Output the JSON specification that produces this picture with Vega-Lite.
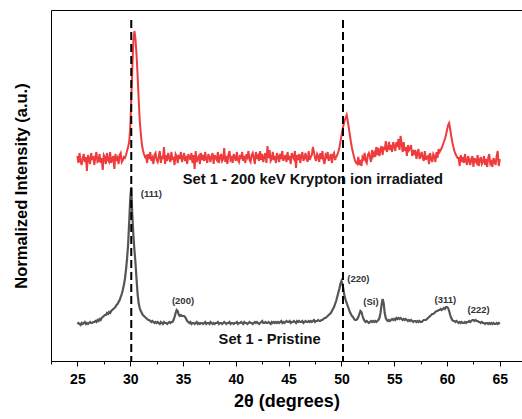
{
  "$schema": "https://vega.github.io/schema/vega-lite/v6.json",
  "width": 471,
  "height": 351,
  "autosize": {"type": "none"},
  "padding": {"left": 51, "top": 10, "right": 0, "bottom": 58},
  "background": "white",
  "config": {"view": {"stroke": null}, "font": "Liberation Sans"},
  "resolve": {"axis": {"x": "independent", "y": "independent"}},
  "datasets": {
    "irradiated": [
      {"theta":25.0,"intensity":205},{"theta":25.1,"intensity":198},{"theta":25.2,"intensity":208},{"theta":25.3,"intensity":200},{"theta":25.4,"intensity":196},{"theta":25.5,"intensity":203},{"theta":25.6,"intensity":207},{"theta":25.7,"intensity":199},{"theta":25.8,"intensity":204},{"theta":25.9,"intensity":190},
      {"theta":26.0,"intensity":206},{"theta":26.1,"intensity":202},{"theta":26.2,"intensity":197},{"theta":26.3,"intensity":208},{"theta":26.4,"intensity":201},{"theta":26.5,"intensity":205},{"theta":26.6,"intensity":196},{"theta":26.7,"intensity":204},{"theta":26.8,"intensity":209},{"theta":26.9,"intensity":199},
      {"theta":27.0,"intensity":200},{"theta":27.1,"intensity":207},{"theta":27.2,"intensity":198},{"theta":27.3,"intensity":203},{"theta":27.4,"intensity":191},{"theta":27.5,"intensity":206},{"theta":27.6,"intensity":204},{"theta":27.7,"intensity":197},{"theta":27.8,"intensity":208},{"theta":27.9,"intensity":201},
      {"theta":28.0,"intensity":199},{"theta":28.1,"intensity":209},{"theta":28.2,"intensity":198},{"theta":28.3,"intensity":202},{"theta":28.4,"intensity":205},{"theta":28.5,"intensity":192},{"theta":28.6,"intensity":207},{"theta":28.7,"intensity":200},{"theta":28.8,"intensity":203},{"theta":28.9,"intensity":197},
      {"theta":29.0,"intensity":206},{"theta":29.1,"intensity":208},{"theta":29.2,"intensity":199},{"theta":29.3,"intensity":201},{"theta":29.4,"intensity":204},{"theta":29.5,"intensity":203},{"theta":29.6,"intensity":206},{"theta":29.7,"intensity":210},{"theta":29.8,"intensity":214},{"theta":29.9,"intensity":219},
      {"theta":30.0,"intensity":232},{"theta":30.1,"intensity":262},{"theta":30.2,"intensity":292},{"theta":30.3,"intensity":320},{"theta":30.4,"intensity":330},{"theta":30.5,"intensity":322},{"theta":30.6,"intensity":306},{"theta":30.7,"intensity":286},{"theta":30.8,"intensity":262},{"theta":30.9,"intensity":241},
      {"theta":31.0,"intensity":228},{"theta":31.1,"intensity":217},{"theta":31.2,"intensity":211},{"theta":31.3,"intensity":207},{"theta":31.4,"intensity":204},{"theta":31.5,"intensity":205},{"theta":31.6,"intensity":198},{"theta":31.7,"intensity":207},{"theta":31.8,"intensity":202},{"theta":31.9,"intensity":209},
      {"theta":32.0,"intensity":200},{"theta":32.1,"intensity":203},{"theta":32.2,"intensity":197},{"theta":32.3,"intensity":206},{"theta":32.4,"intensity":208},{"theta":32.5,"intensity":201},{"theta":32.6,"intensity":199},{"theta":32.7,"intensity":204},{"theta":32.8,"intensity":210},{"theta":32.9,"intensity":198},
      {"theta":33.0,"intensity":205},{"theta":33.1,"intensity":202},{"theta":33.2,"intensity":214},{"theta":33.3,"intensity":197},{"theta":33.4,"intensity":206},{"theta":33.5,"intensity":200},{"theta":33.6,"intensity":208},{"theta":33.7,"intensity":203},{"theta":33.8,"intensity":199},{"theta":33.9,"intensity":209},
      {"theta":34.0,"intensity":201},{"theta":34.1,"intensity":204},{"theta":34.2,"intensity":196},{"theta":34.3,"intensity":207},{"theta":34.4,"intensity":205},{"theta":34.5,"intensity":198},{"theta":34.6,"intensity":206},{"theta":34.7,"intensity":202},{"theta":34.8,"intensity":209},{"theta":34.9,"intensity":199},
      {"theta":35.0,"intensity":203},{"theta":35.1,"intensity":208},{"theta":35.2,"intensity":200},{"theta":35.3,"intensity":205},{"theta":35.4,"intensity":197},{"theta":35.5,"intensity":207},{"theta":35.6,"intensity":204},{"theta":35.7,"intensity":201},{"theta":35.8,"intensity":208},{"theta":35.9,"intensity":198},
      {"theta":36.0,"intensity":206},{"theta":36.1,"intensity":192},{"theta":36.2,"intensity":210},{"theta":36.3,"intensity":199},{"theta":36.4,"intensity":203},{"theta":36.5,"intensity":205},{"theta":36.6,"intensity":197},{"theta":36.7,"intensity":208},{"theta":36.8,"intensity":201},{"theta":36.9,"intensity":206},
      {"theta":37.0,"intensity":200},{"theta":37.1,"intensity":209},{"theta":37.2,"intensity":202},{"theta":37.3,"intensity":198},{"theta":37.4,"intensity":207},{"theta":37.5,"intensity":204},{"theta":37.6,"intensity":199},{"theta":37.7,"intensity":205},{"theta":37.8,"intensity":208},{"theta":37.9,"intensity":197},
      {"theta":38.0,"intensity":206},{"theta":38.1,"intensity":203},{"theta":38.2,"intensity":201},{"theta":38.3,"intensity":209},{"theta":38.4,"intensity":198},{"theta":38.5,"intensity":204},{"theta":38.6,"intensity":207},{"theta":38.7,"intensity":200},{"theta":38.8,"intensity":202},{"theta":38.9,"intensity":213},
      {"theta":39.0,"intensity":199},{"theta":39.1,"intensity":205},{"theta":39.2,"intensity":197},{"theta":39.3,"intensity":206},{"theta":39.4,"intensity":210},{"theta":39.5,"intensity":201},{"theta":39.6,"intensity":203},{"theta":39.7,"intensity":198},{"theta":39.8,"intensity":207},{"theta":39.9,"intensity":204},
      {"theta":40.0,"intensity":200},{"theta":40.1,"intensity":209},{"theta":40.2,"intensity":201},{"theta":40.3,"intensity":199},{"theta":40.4,"intensity":206},{"theta":40.5,"intensity":202},{"theta":40.6,"intensity":209},{"theta":40.7,"intensity":200},{"theta":40.8,"intensity":205},{"theta":40.9,"intensity":198},
      {"theta":41.0,"intensity":207},{"theta":41.1,"intensity":204},{"theta":41.2,"intensity":210},{"theta":41.3,"intensity":201},{"theta":41.4,"intensity":199},{"theta":41.5,"intensity":206},{"theta":41.6,"intensity":208},{"theta":41.7,"intensity":203},{"theta":41.8,"intensity":197},{"theta":41.9,"intensity":209},
      {"theta":42.0,"intensity":202},{"theta":42.1,"intensity":205},{"theta":42.2,"intensity":200},{"theta":42.3,"intensity":210},{"theta":42.4,"intensity":201},{"theta":42.5,"intensity":207},{"theta":42.6,"intensity":199},{"theta":42.7,"intensity":204},{"theta":42.8,"intensity":208},{"theta":42.9,"intensity":198},
      {"theta":43.0,"intensity":215},{"theta":43.1,"intensity":203},{"theta":43.2,"intensity":211},{"theta":43.3,"intensity":200},{"theta":43.4,"intensity":202},{"theta":43.5,"intensity":209},{"theta":43.6,"intensity":201},{"theta":43.7,"intensity":205},{"theta":43.8,"intensity":198},{"theta":43.9,"intensity":208},
      {"theta":44.0,"intensity":204},{"theta":44.1,"intensity":199},{"theta":44.2,"intensity":207},{"theta":44.3,"intensity":202},{"theta":44.4,"intensity":210},{"theta":44.5,"intensity":200},{"theta":44.6,"intensity":203},{"theta":44.7,"intensity":206},{"theta":44.8,"intensity":199},{"theta":44.9,"intensity":209},
      {"theta":45.0,"intensity":201},{"theta":45.1,"intensity":205},{"theta":45.2,"intensity":197},{"theta":45.3,"intensity":208},{"theta":45.4,"intensity":204},{"theta":45.5,"intensity":202},{"theta":45.6,"intensity":210},{"theta":45.7,"intensity":193},{"theta":45.8,"intensity":206},{"theta":45.9,"intensity":201},
      {"theta":46.0,"intensity":207},{"theta":46.1,"intensity":198},{"theta":46.2,"intensity":205},{"theta":46.3,"intensity":209},{"theta":46.4,"intensity":200},{"theta":46.5,"intensity":203},{"theta":46.6,"intensity":208},{"theta":46.7,"intensity":202},{"theta":46.8,"intensity":199},{"theta":46.9,"intensity":210},
      {"theta":47.0,"intensity":201},{"theta":47.1,"intensity":204},{"theta":47.2,"intensity":206},{"theta":47.3,"intensity":214},{"theta":47.4,"intensity":209},{"theta":47.5,"intensity":203},{"theta":47.6,"intensity":200},{"theta":47.7,"intensity":207},{"theta":47.8,"intensity":205},{"theta":47.9,"intensity":199},
      {"theta":48.0,"intensity":208},{"theta":48.1,"intensity":202},{"theta":48.2,"intensity":210},{"theta":48.3,"intensity":201},{"theta":48.4,"intensity":197},{"theta":48.5,"intensity":206},{"theta":48.6,"intensity":204},{"theta":48.7,"intensity":209},{"theta":48.8,"intensity":200},{"theta":48.9,"intensity":203},
      {"theta":49.0,"intensity":207},{"theta":49.1,"intensity":198},{"theta":49.2,"intensity":206},{"theta":49.3,"intensity":208},{"theta":49.4,"intensity":201},{"theta":49.5,"intensity":204},{"theta":49.6,"intensity":206},{"theta":49.7,"intensity":209},{"theta":49.8,"intensity":213},{"theta":49.9,"intensity":219},
      {"theta":50.0,"intensity":225},{"theta":50.1,"intensity":231},{"theta":50.2,"intensity":236},{"theta":50.3,"intensity":240},{"theta":50.4,"intensity":243},{"theta":50.5,"intensity":246},{"theta":50.6,"intensity":240},{"theta":50.7,"intensity":233},{"theta":50.8,"intensity":226},{"theta":50.9,"intensity":219},
      {"theta":51.0,"intensity":213},{"theta":51.1,"intensity":208},{"theta":51.2,"intensity":204},{"theta":51.3,"intensity":200},{"theta":51.4,"intensity":198},{"theta":51.5,"intensity":197},{"theta":51.6,"intensity":204},{"theta":51.7,"intensity":196},{"theta":51.8,"intensity":201},{"theta":51.9,"intensity":195},
      {"theta":52.0,"intensity":204},{"theta":52.1,"intensity":202},{"theta":52.2,"intensity":208},{"theta":52.3,"intensity":200},{"theta":52.4,"intensity":198},{"theta":52.5,"intensity":206},{"theta":52.6,"intensity":208},{"theta":52.7,"intensity":204},{"theta":52.8,"intensity":199},{"theta":52.9,"intensity":211},
      {"theta":53.0,"intensity":205},{"theta":53.1,"intensity":208},{"theta":53.2,"intensity":204},{"theta":53.3,"intensity":214},{"theta":53.4,"intensity":206},{"theta":53.5,"intensity":213},{"theta":53.6,"intensity":205},{"theta":53.7,"intensity":211},{"theta":53.8,"intensity":215},{"theta":53.9,"intensity":206},
      {"theta":54.0,"intensity":214},{"theta":54.1,"intensity":211},{"theta":54.2,"intensity":220},{"theta":54.3,"intensity":209},{"theta":54.4,"intensity":212},{"theta":54.5,"intensity":219},{"theta":54.6,"intensity":211},{"theta":54.7,"intensity":216},{"theta":54.8,"intensity":209},{"theta":54.9,"intensity":219},
      {"theta":55.0,"intensity":215},{"theta":55.1,"intensity":210},{"theta":55.2,"intensity":219},{"theta":55.3,"intensity":214},{"theta":55.4,"intensity":222},{"theta":55.5,"intensity":211},{"theta":55.6,"intensity":225},{"theta":55.7,"intensity":217},{"theta":55.8,"intensity":209},{"theta":55.9,"intensity":219},
      {"theta":56.0,"intensity":210},{"theta":56.1,"intensity":214},{"theta":56.2,"intensity":205},{"theta":56.3,"intensity":216},{"theta":56.4,"intensity":211},{"theta":56.5,"intensity":213},{"theta":56.6,"intensity":216},{"theta":56.7,"intensity":205},{"theta":56.8,"intensity":211},{"theta":56.9,"intensity":206},
      {"theta":57.0,"intensity":211},{"theta":57.1,"intensity":202},{"theta":57.2,"intensity":208},{"theta":57.3,"intensity":212},{"theta":57.4,"intensity":202},{"theta":57.5,"intensity":205},{"theta":57.6,"intensity":209},{"theta":57.7,"intensity":203},{"theta":57.8,"intensity":200},{"theta":57.9,"intensity":210},
      {"theta":58.0,"intensity":201},{"theta":58.1,"intensity":204},{"theta":58.2,"intensity":205},{"theta":58.3,"intensity":197},{"theta":58.4,"intensity":208},{"theta":58.5,"intensity":202},{"theta":58.6,"intensity":199},{"theta":58.7,"intensity":207},{"theta":58.8,"intensity":205},{"theta":58.9,"intensity":199},
      {"theta":59.0,"intensity":209},{"theta":59.1,"intensity":203},{"theta":59.2,"intensity":212},{"theta":59.3,"intensity":209},{"theta":59.4,"intensity":211},{"theta":59.5,"intensity":213},{"theta":59.6,"intensity":216},{"theta":59.7,"intensity":219},{"theta":59.8,"intensity":222},{"theta":59.9,"intensity":226},
      {"theta":60.0,"intensity":231},{"theta":60.1,"intensity":236},{"theta":60.2,"intensity":238},{"theta":60.3,"intensity":232},{"theta":60.4,"intensity":225},{"theta":60.5,"intensity":219},{"theta":60.6,"intensity":214},{"theta":60.7,"intensity":210},{"theta":60.8,"intensity":207},{"theta":60.9,"intensity":205},
      {"theta":61.0,"intensity":203},{"theta":61.1,"intensity":203},{"theta":61.2,"intensity":195},{"theta":61.3,"intensity":206},{"theta":61.4,"intensity":199},{"theta":61.5,"intensity":204},{"theta":61.6,"intensity":198},{"theta":61.7,"intensity":207},{"theta":61.8,"intensity":200},{"theta":61.9,"intensity":196},
      {"theta":62.0,"intensity":205},{"theta":62.1,"intensity":201},{"theta":62.2,"intensity":196},{"theta":62.3,"intensity":202},{"theta":62.4,"intensity":205},{"theta":62.5,"intensity":194},{"theta":62.6,"intensity":203},{"theta":62.7,"intensity":200},{"theta":62.8,"intensity":198},{"theta":62.9,"intensity":206},
      {"theta":63.0,"intensity":195},{"theta":63.1,"intensity":201},{"theta":63.2,"intensity":204},{"theta":63.3,"intensity":197},{"theta":63.4,"intensity":199},{"theta":63.5,"intensity":205},{"theta":63.6,"intensity":196},{"theta":63.7,"intensity":202},{"theta":63.8,"intensity":194},{"theta":63.9,"intensity":203},
      {"theta":64.0,"intensity":207},{"theta":64.1,"intensity":197},{"theta":64.2,"intensity":199},{"theta":64.3,"intensity":194},{"theta":64.4,"intensity":203},{"theta":64.5,"intensity":200},{"theta":64.6,"intensity":196},{"theta":64.7,"intensity":205},{"theta":64.8,"intensity":210},{"theta":64.9,"intensity":195},
      {"theta":65.0,"intensity":202}
    ],
    "pristine": [
      {"theta":25.0,"intensity":37},{"theta":25.1,"intensity":38},{"theta":25.2,"intensity":37},{"theta":25.3,"intensity":36},{"theta":25.4,"intensity":38},{"theta":25.5,"intensity":37},{"theta":25.6,"intensity":38},{"theta":25.7,"intensity":39},{"theta":25.8,"intensity":37},{"theta":25.9,"intensity":38},
      {"theta":26.0,"intensity":37},{"theta":26.1,"intensity":38},{"theta":26.2,"intensity":39},{"theta":26.3,"intensity":38},{"theta":26.4,"intensity":38},{"theta":26.5,"intensity":39},{"theta":26.6,"intensity":39},{"theta":26.7,"intensity":40},{"theta":26.8,"intensity":39},{"theta":26.9,"intensity":41},
      {"theta":27.0,"intensity":40},{"theta":27.1,"intensity":42},{"theta":27.2,"intensity":41},{"theta":27.3,"intensity":43},{"theta":27.4,"intensity":44},{"theta":27.5,"intensity":45},{"theta":27.6,"intensity":46},{"theta":27.7,"intensity":46},{"theta":27.8,"intensity":48},{"theta":27.9,"intensity":47},
      {"theta":28.0,"intensity":49},{"theta":28.1,"intensity":48},{"theta":28.2,"intensity":50},{"theta":28.3,"intensity":51},{"theta":28.4,"intensity":52},{"theta":28.5,"intensity":53},{"theta":28.6,"intensity":54},{"theta":28.7,"intensity":56},{"theta":28.8,"intensity":57},{"theta":28.9,"intensity":59},
      {"theta":29.0,"intensity":61},{"theta":29.1,"intensity":64},{"theta":29.2,"intensity":67},{"theta":29.3,"intensity":71},{"theta":29.4,"intensity":76},{"theta":29.5,"intensity":82},{"theta":29.6,"intensity":91},{"theta":29.7,"intensity":102},{"theta":29.8,"intensity":116},{"theta":29.9,"intensity":138},
      {"theta":30.0,"intensity":162},{"theta":30.1,"intensity":174},{"theta":30.2,"intensity":146},{"theta":30.3,"intensity":126},{"theta":30.4,"intensity":111},{"theta":30.5,"intensity":98},{"theta":30.6,"intensity":82},{"theta":30.7,"intensity":67},{"theta":30.8,"intensity":58},{"theta":30.9,"intensity":53},
      {"theta":31.0,"intensity":50},{"theta":31.1,"intensity":48},{"theta":31.2,"intensity":46},{"theta":31.3,"intensity":45},{"theta":31.4,"intensity":44},{"theta":31.5,"intensity":43},{"theta":31.6,"intensity":42},{"theta":31.7,"intensity":41},{"theta":31.8,"intensity":41},{"theta":31.9,"intensity":40},
      {"theta":32.0,"intensity":39},{"theta":32.1,"intensity":40},{"theta":32.2,"intensity":39},{"theta":32.3,"intensity":38},{"theta":32.4,"intensity":39},{"theta":32.5,"intensity":38},{"theta":32.6,"intensity":39},{"theta":32.7,"intensity":38},{"theta":32.8,"intensity":37},{"theta":32.9,"intensity":39},
      {"theta":33.0,"intensity":38},{"theta":33.1,"intensity":37},{"theta":33.2,"intensity":39},{"theta":33.3,"intensity":38},{"theta":33.4,"intensity":38},{"theta":33.5,"intensity":37},{"theta":33.6,"intensity":38},{"theta":33.7,"intensity":39},{"theta":33.8,"intensity":38},{"theta":33.9,"intensity":39},
      {"theta":34.0,"intensity":39},{"theta":34.1,"intensity":41},{"theta":34.2,"intensity":44},{"theta":34.3,"intensity":48},{"theta":34.4,"intensity":51},{"theta":34.5,"intensity":50},{"theta":34.6,"intensity":46},{"theta":34.7,"intensity":45},{"theta":34.8,"intensity":46},{"theta":34.9,"intensity":45},
      {"theta":35.0,"intensity":45},{"theta":35.1,"intensity":45},{"theta":35.2,"intensity":44},{"theta":35.3,"intensity":42},{"theta":35.4,"intensity":40},{"theta":35.5,"intensity":39},{"theta":35.6,"intensity":38},{"theta":35.7,"intensity":39},{"theta":35.8,"intensity":37},{"theta":35.9,"intensity":38},
      {"theta":36.0,"intensity":38},{"theta":36.1,"intensity":37},{"theta":36.2,"intensity":38},{"theta":36.3,"intensity":39},{"theta":36.4,"intensity":37},{"theta":36.5,"intensity":38},{"theta":36.6,"intensity":37},{"theta":36.7,"intensity":38},{"theta":36.8,"intensity":38},{"theta":36.9,"intensity":37},
      {"theta":37.0,"intensity":38},{"theta":37.1,"intensity":39},{"theta":37.2,"intensity":37},{"theta":37.3,"intensity":38},{"theta":37.4,"intensity":38},{"theta":37.5,"intensity":37},{"theta":37.6,"intensity":39},{"theta":37.7,"intensity":38},{"theta":37.8,"intensity":37},{"theta":37.9,"intensity":38},
      {"theta":38.0,"intensity":37},{"theta":38.1,"intensity":38},{"theta":38.2,"intensity":38},{"theta":38.3,"intensity":39},{"theta":38.4,"intensity":37},{"theta":38.5,"intensity":38},{"theta":38.6,"intensity":38},{"theta":38.7,"intensity":37},{"theta":38.8,"intensity":38},{"theta":38.9,"intensity":39},
      {"theta":39.0,"intensity":38},{"theta":39.1,"intensity":37},{"theta":39.2,"intensity":38},{"theta":39.3,"intensity":38},{"theta":39.4,"intensity":39},{"theta":39.5,"intensity":37},{"theta":39.6,"intensity":38},{"theta":39.7,"intensity":38},{"theta":39.8,"intensity":37},{"theta":39.9,"intensity":38},
      {"theta":40.0,"intensity":38},{"theta":40.1,"intensity":39},{"theta":40.2,"intensity":37},{"theta":40.3,"intensity":38},{"theta":40.4,"intensity":38},{"theta":40.5,"intensity":39},{"theta":40.6,"intensity":38},{"theta":40.7,"intensity":37},{"theta":40.8,"intensity":39},{"theta":40.9,"intensity":38},
      {"theta":41.0,"intensity":38},{"theta":41.1,"intensity":37},{"theta":41.2,"intensity":38},{"theta":41.3,"intensity":39},{"theta":41.4,"intensity":38},{"theta":41.5,"intensity":38},{"theta":41.6,"intensity":37},{"theta":41.7,"intensity":38},{"theta":41.8,"intensity":39},{"theta":41.9,"intensity":38},
      {"theta":42.0,"intensity":39},{"theta":42.1,"intensity":38},{"theta":42.2,"intensity":37},{"theta":42.3,"intensity":38},{"theta":42.4,"intensity":39},{"theta":42.5,"intensity":40},{"theta":42.6,"intensity":38},{"theta":42.7,"intensity":38},{"theta":42.8,"intensity":39},{"theta":42.9,"intensity":38},
      {"theta":43.0,"intensity":38},{"theta":43.1,"intensity":39},{"theta":43.2,"intensity":38},{"theta":43.3,"intensity":37},{"theta":43.4,"intensity":39},{"theta":43.5,"intensity":38},{"theta":43.6,"intensity":39},{"theta":43.7,"intensity":38},{"theta":43.8,"intensity":39},{"theta":43.9,"intensity":38},
      {"theta":44.0,"intensity":39},{"theta":44.1,"intensity":38},{"theta":44.2,"intensity":39},{"theta":44.3,"intensity":40},{"theta":44.4,"intensity":38},{"theta":44.5,"intensity":39},{"theta":44.6,"intensity":38},{"theta":44.7,"intensity":39},{"theta":44.8,"intensity":40},{"theta":44.9,"intensity":39},
      {"theta":45.0,"intensity":39},{"theta":45.1,"intensity":40},{"theta":45.2,"intensity":38},{"theta":45.3,"intensity":39},{"theta":45.4,"intensity":39},{"theta":45.5,"intensity":40},{"theta":45.6,"intensity":39},{"theta":45.7,"intensity":38},{"theta":45.8,"intensity":40},{"theta":45.9,"intensity":39},
      {"theta":46.0,"intensity":40},{"theta":46.1,"intensity":39},{"theta":46.2,"intensity":39},{"theta":46.3,"intensity":40},{"theta":46.4,"intensity":38},{"theta":46.5,"intensity":39},{"theta":46.6,"intensity":40},{"theta":46.7,"intensity":39},{"theta":46.8,"intensity":39},{"theta":46.9,"intensity":40},
      {"theta":47.0,"intensity":39},{"theta":47.1,"intensity":40},{"theta":47.2,"intensity":39},{"theta":47.3,"intensity":40},{"theta":47.4,"intensity":41},{"theta":47.5,"intensity":39},{"theta":47.6,"intensity":40},{"theta":47.7,"intensity":40},{"theta":47.8,"intensity":41},{"theta":47.9,"intensity":40},
      {"theta":48.0,"intensity":40},{"theta":48.1,"intensity":41},{"theta":48.2,"intensity":41},{"theta":48.3,"intensity":42},{"theta":48.4,"intensity":43},{"theta":48.5,"intensity":43},{"theta":48.6,"intensity":44},{"theta":48.7,"intensity":45},{"theta":48.8,"intensity":46},{"theta":48.9,"intensity":47},
      {"theta":49.0,"intensity":48},{"theta":49.1,"intensity":50},{"theta":49.2,"intensity":52},{"theta":49.3,"intensity":54},{"theta":49.4,"intensity":57},{"theta":49.5,"intensity":60},{"theta":49.6,"intensity":64},{"theta":49.7,"intensity":68},{"theta":49.8,"intensity":72},{"theta":49.9,"intensity":77},
      {"theta":50.0,"intensity":80},{"theta":50.1,"intensity":77},{"theta":50.2,"intensity":71},{"theta":50.3,"intensity":65},{"theta":50.4,"intensity":61},{"theta":50.5,"intensity":58},{"theta":50.6,"intensity":55},{"theta":50.7,"intensity":52},{"theta":50.8,"intensity":49},{"theta":50.9,"intensity":47},
      {"theta":51.0,"intensity":45},{"theta":51.1,"intensity":44},{"theta":51.2,"intensity":42},{"theta":51.3,"intensity":41},{"theta":51.4,"intensity":41},{"theta":51.5,"intensity":42},{"theta":51.6,"intensity":44},{"theta":51.7,"intensity":47},{"theta":51.8,"intensity":50},{"theta":51.9,"intensity":49},
      {"theta":52.0,"intensity":45},{"theta":52.1,"intensity":42},{"theta":52.2,"intensity":40},{"theta":52.3,"intensity":39},{"theta":52.4,"intensity":40},{"theta":52.5,"intensity":39},{"theta":52.6,"intensity":38},{"theta":52.7,"intensity":39},{"theta":52.8,"intensity":40},{"theta":52.9,"intensity":39},
      {"theta":53.0,"intensity":40},{"theta":53.1,"intensity":39},{"theta":53.2,"intensity":40},{"theta":53.3,"intensity":39},{"theta":53.4,"intensity":40},{"theta":53.5,"intensity":41},{"theta":53.6,"intensity":43},{"theta":53.7,"intensity":48},{"theta":53.8,"intensity":56},{"theta":53.9,"intensity":62},
      {"theta":54.0,"intensity":58},{"theta":54.1,"intensity":48},{"theta":54.2,"intensity":43},{"theta":54.3,"intensity":41},{"theta":54.4,"intensity":40},{"theta":54.5,"intensity":41},{"theta":54.6,"intensity":40},{"theta":54.7,"intensity":41},{"theta":54.8,"intensity":42},{"theta":54.9,"intensity":41},
      {"theta":55.0,"intensity":42},{"theta":55.1,"intensity":41},{"theta":55.2,"intensity":43},{"theta":55.3,"intensity":42},{"theta":55.4,"intensity":43},{"theta":55.5,"intensity":42},{"theta":55.6,"intensity":43},{"theta":55.7,"intensity":42},{"theta":55.8,"intensity":41},{"theta":55.9,"intensity":42},
      {"theta":56.0,"intensity":41},{"theta":56.1,"intensity":42},{"theta":56.2,"intensity":41},{"theta":56.3,"intensity":40},{"theta":56.4,"intensity":41},{"theta":56.5,"intensity":40},{"theta":56.6,"intensity":41},{"theta":56.7,"intensity":40},{"theta":56.8,"intensity":39},{"theta":56.9,"intensity":40},
      {"theta":57.0,"intensity":40},{"theta":57.1,"intensity":39},{"theta":57.2,"intensity":40},{"theta":57.3,"intensity":39},{"theta":57.4,"intensity":40},{"theta":57.5,"intensity":39},{"theta":57.6,"intensity":39},{"theta":57.7,"intensity":40},{"theta":57.8,"intensity":41},{"theta":57.9,"intensity":41},
      {"theta":58.0,"intensity":41},{"theta":58.1,"intensity":42},{"theta":58.2,"intensity":43},{"theta":58.3,"intensity":44},{"theta":58.4,"intensity":45},{"theta":58.5,"intensity":46},{"theta":58.6,"intensity":47},{"theta":58.7,"intensity":47},{"theta":58.8,"intensity":48},{"theta":58.9,"intensity":49},
      {"theta":59.0,"intensity":50},{"theta":59.1,"intensity":50},{"theta":59.2,"intensity":51},{"theta":59.3,"intensity":51},{"theta":59.4,"intensity":52},{"theta":59.5,"intensity":51},{"theta":59.6,"intensity":52},{"theta":59.7,"intensity":53},{"theta":59.8,"intensity":52},{"theta":59.9,"intensity":54},
      {"theta":60.0,"intensity":54},{"theta":60.1,"intensity":53},{"theta":60.2,"intensity":50},{"theta":60.3,"intensity":46},{"theta":60.4,"intensity":43},{"theta":60.5,"intensity":41},{"theta":60.6,"intensity":40},{"theta":60.7,"intensity":40},{"theta":60.8,"intensity":39},{"theta":60.9,"intensity":40},
      {"theta":61.0,"intensity":39},{"theta":61.1,"intensity":38},{"theta":61.2,"intensity":39},{"theta":61.3,"intensity":38},{"theta":61.4,"intensity":39},{"theta":61.5,"intensity":38},{"theta":61.6,"intensity":38},{"theta":61.7,"intensity":39},{"theta":61.8,"intensity":38},{"theta":61.9,"intensity":39},
      {"theta":62.0,"intensity":39},{"theta":62.1,"intensity":40},{"theta":62.2,"intensity":39},{"theta":62.3,"intensity":40},{"theta":62.4,"intensity":41},{"theta":62.5,"intensity":41},{"theta":62.6,"intensity":40},{"theta":62.7,"intensity":41},{"theta":62.8,"intensity":40},{"theta":62.9,"intensity":40},
      {"theta":63.0,"intensity":39},{"theta":63.1,"intensity":39},{"theta":63.2,"intensity":38},{"theta":63.3,"intensity":39},{"theta":63.4,"intensity":38},{"theta":63.5,"intensity":38},{"theta":63.6,"intensity":37},{"theta":63.7,"intensity":38},{"theta":63.8,"intensity":38},{"theta":63.9,"intensity":37},
      {"theta":64.0,"intensity":38},{"theta":64.1,"intensity":37},{"theta":64.2,"intensity":38},{"theta":64.3,"intensity":37},{"theta":64.4,"intensity":38},{"theta":64.5,"intensity":37},{"theta":64.6,"intensity":37},{"theta":64.7,"intensity":38},{"theta":64.8,"intensity":37},{"theta":64.9,"intensity":38},
      {"theta":65.0,"intensity":37}
    ],
    "seriesLabels": [
      {"theta":47.3,"intensity":181,"label":"Set 1 - 200 keV Krypton ion irradiated"},
      {"theta":43.2,"intensity":21,"label":"Set 1 - Pristine"}
    ],
    "peakLabels": [
      {"theta":32.0,"intensity":167,"label":"(111)"},
      {"theta":35.0,"intensity":60,"label":"(200)"},
      {"theta":51.6,"intensity":82,"label":"(220)"},
      {"theta":52.8,"intensity":59,"label":"(Si)"},
      {"theta":59.85,"intensity":61,"label":"(311)"},
      {"theta":63.0,"intensity":51,"label":"(222)"}
    ],
    "references": [
      {"theta":30.1},
      {"theta":50.15}
    ]
  },
  "layer": [
    {
      "data": {"name": "pristine"},
      "mark": {"type": "line", "color": "#555555", "strokeWidth": 2.2},
      "encoding": {
        "x": {"field": "theta", "type": "quantitative", "scale": {"domain": [22.5, 67.1], "nice": false, "zero": false},
              "axis": {"orient": "top", "labels": false, "ticks": false, "title": null, "grid": false, "domainColor": "black", "domainWidth": 1}},
        "y": {"field": "intensity", "type": "quantitative", "scale": {"domain": [0, 351], "nice": false, "zero": false},
              "axis": {"orient": "left", "labels": false, "ticks": false, "grid": false, "domainColor": "black", "domainWidth": 1,
                       "title": "Normalized Intensity (a.u.)", "titleFontSize": 16.5, "titleFontWeight": "bold", "titleColor": "black", "titlePadding": 22, "titleFont": "Liberation Sans"}}
      }
    },
    {
      "data": {"name": "irradiated"},
      "mark": {"type": "line", "color": "#ee3b3d", "strokeWidth": 2},
      "encoding": {
        "x": {"field": "theta", "type": "quantitative", "scale": {"domain": [22.5, 67.1], "nice": false, "zero": false}, "axis": null},
        "y": {"field": "intensity", "type": "quantitative", "scale": {"domain": [0, 351], "nice": false, "zero": false}, "axis": null}
      }
    },
    {
      "data": {"name": "seriesLabels"},
      "mark": {"type": "text", "font": "Liberation Sans", "fontWeight": "bold", "fontSize": 14.7, "color": "#111111", "align": "center", "baseline": "middle"},
      "encoding": {
        "x": {"field": "theta", "type": "quantitative", "scale": {"domain": [22.5, 67.1], "nice": false, "zero": false}, "axis": null},
        "y": {"field": "intensity", "type": "quantitative", "scale": {"domain": [0, 351], "nice": false, "zero": false}, "axis": null},
        "text": {"field": "label", "type": "nominal"}
      }
    },
    {
      "data": {"name": "peakLabels"},
      "mark": {"type": "text", "font": "Liberation Sans", "fontWeight": "bold", "fontSize": 9.5, "color": "#333333", "align": "center", "baseline": "middle"},
      "encoding": {
        "x": {"field": "theta", "type": "quantitative", "scale": {"domain": [22.5, 67.1], "nice": false, "zero": false}, "axis": null},
        "y": {"field": "intensity", "type": "quantitative", "scale": {"domain": [0, 351], "nice": false, "zero": false}, "axis": null},
        "text": {"field": "label", "type": "nominal"}
      }
    },
    {
      "data": {"name": "references"},
      "mark": {"type": "rule", "color": "black", "strokeWidth": 2, "strokeDash": [8, 4]},
      "encoding": {
        "x": {"field": "theta", "type": "quantitative", "scale": {"domain": [22.5, 67.1], "nice": false, "zero": false},
              "axis": {"orient": "bottom", "values": [22.5, 25, 27.5, 30, 32.5, 35, 37.5, 40, 42.5, 45, 47.5, 50, 52.5, 55, 57.5, 60, 62.5, 65],
                       "labelExpr": "datum.value % 5 === 0 ? datum.label : ''",
                       "tickSize": {"condition": {"test": "datum.value % 5 === 0", "value": 5}, "value": 3},
                       "tickColor": "black", "tickWidth": 1, "domainColor": "black", "domainWidth": 1, "grid": false,
                       "labelFont": "Liberation Sans", "labelFontSize": 14, "labelFontWeight": "bold", "labelColor": "black", "labelPadding": 6,
                       "labelFlush": false, "labelOverlap": false,
                       "title": "2θ (degrees)", "titleFont": "Liberation Sans", "titleFontSize": 18, "titleFontWeight": "bold", "titleColor": "black", "titlePadding": 6}},
        "y": {"datum": 341, "type": "quantitative", "scale": {"domain": [0, 351], "nice": false, "zero": false}, "axis": null},
        "y2": {"datum": 0}
      }
    }
  ]
}
